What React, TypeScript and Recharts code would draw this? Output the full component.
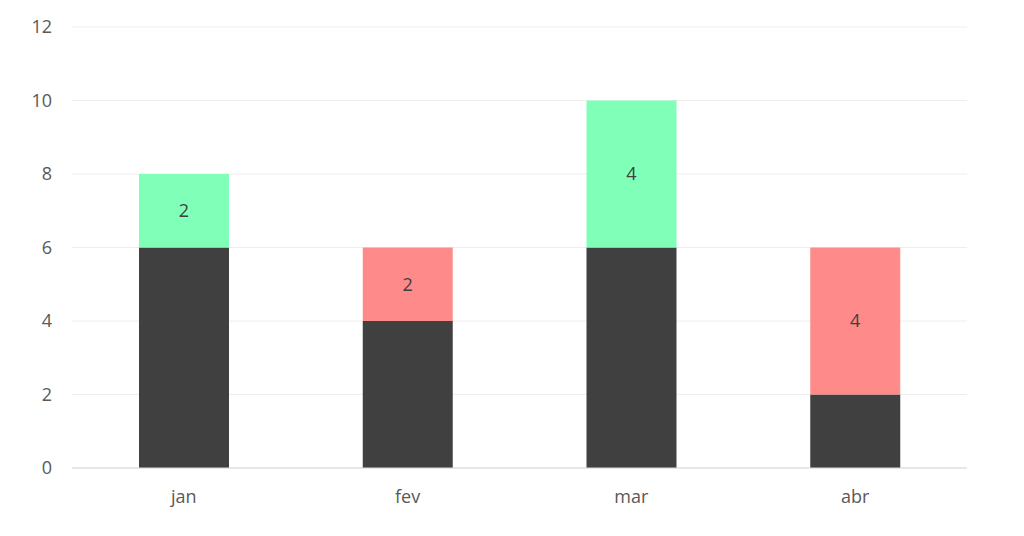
import { BarChart, Bar, XAxis, YAxis, CartesianGrid, LabelList } from 'recharts';

const months = ['jan', 'fev', 'mar', 'abr'];
const baseValues = [6, 4, 6, 2];
const upValues = [2, 0, 4, 0];
const downValues = [0, 2, 0, 4];
const yTicks = [0, 2, 4, 6, 8, 10, 12];

const data = months.map((m, i) => ({
  month: m,
  base: baseValues[i],
  up: upValues[i],
  down: downValues[i],
}));

const font = '"Open Sans", "Noto Sans", sans-serif';
const hideZero = (v: any) => (v ? v : '');

export default function App() {
  return (
    <div style={{ position: 'absolute', left: 0, top: 0, background: '#fff' }}>
      <BarChart
        width={1024}
        height={536}
        data={data}
        margin={{ top: 27, right: 57, left: 0, bottom: 28 }}
        barSize={90}
      >
        <CartesianGrid vertical={false} stroke="#eeeeee" />
        <XAxis
          dataKey="month"
          stroke="#d9d9d9"
          tickLine={false}
          tickMargin={16}
          height={40}
          tick={{ fill: '#595959', fontSize: 18, fontFamily: font }}
        />
        <YAxis
          domain={[0, 12]}
          ticks={yTicks}
          axisLine={false}
          tickLine={false}
          width={72}
          tickMargin={14}
          tick={{ fill: '#595959', fontSize: 18, fontFamily: font }}
        />
        <Bar dataKey="base" stackId="a" fill="#404040" isAnimationActive={false} />
        <Bar dataKey="up" stackId="a" fill="#80FFB9" isAnimationActive={false}>
          <LabelList dataKey="up" position="center" formatter={hideZero} fill="#404040" fontSize={18} fontFamily={font} />
        </Bar>
        <Bar dataKey="down" stackId="a" fill="#FF8A8A" isAnimationActive={false}>
          <LabelList dataKey="down" position="center" formatter={hideZero} fill="#404040" fontSize={18} fontFamily={font} />
        </Bar>
      </BarChart>
    </div>
  );
}
